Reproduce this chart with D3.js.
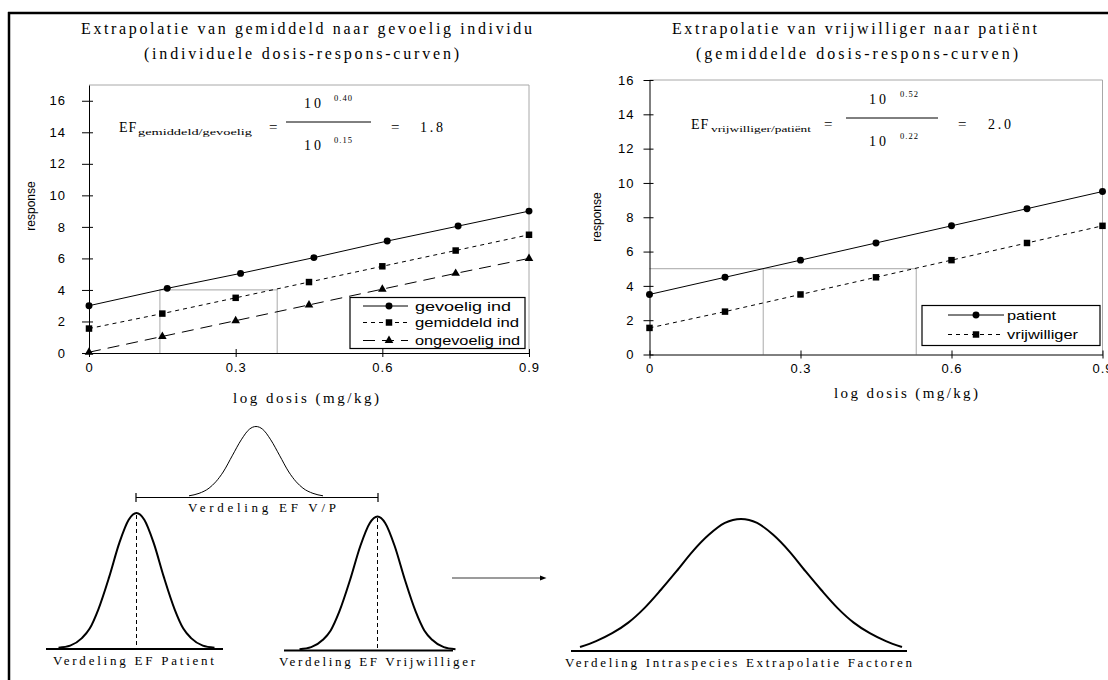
<!DOCTYPE html>
<html><head><meta charset="utf-8">
<script src="https://cdn.jsdelivr.net/npm/d3@7"></script>
<style>body{margin:0;background:#fff}svg{display:block}</style>
</head><body><svg id="c" width="1108" height="680"></svg>
<script>
// ---------- data ----------
const doseTicks = [0, 0.3, 0.6, 0.9];
const respTicks = [0, 2, 4, 6, 8, 10, 12, 14, 16];

const doseGevoelig = [0, 0.16, 0.31, 0.46, 0.61, 0.755, 0.9];
const doseStandard = [0, 0.15, 0.3, 0.45, 0.6, 0.75, 0.9];

const respGevoelig   = [3.0, 4.1, 5.05, 6.05, 7.1, 8.05, 9.0];
const respGemiddeld  = [1.55, 2.5, 3.5, 4.5, 5.5, 6.5, 7.5];
const respOngevoelig = [0.05, 1.05, 2.05, 3.05, 4.05, 5.05, 6.0];

const respPatient      = [3.5, 4.5, 5.5, 6.5, 7.5, 8.5, 9.5];
const respVrijwilliger = [1.55, 2.5, 3.5, 4.5, 5.5, 6.5, 7.5];

const refLeftDose = [0.145, 0.385], refLeftResp = 4;
const refRightDose = [0.226, 0.53], refRightResp = 5;

const legendLeft  = ["gevoelig ind", "gemiddeld ind", "ongevoelig ind"];
const legendRight = ["patient", "vrijwilliger"];

// bell profiles (u = offset / half-width, h = height fraction)
const bellU     = [0, 0.1, 0.22, 0.35, 0.49, 0.6, 0.7, 0.85, 1.0];
const narrowH   = [1, 0.95, 0.78, 0.53, 0.29, 0.15, 0.08, 0.025, 0.01];
const vpH       = [1, 0.96, 0.81, 0.59, 0.35, 0.21, 0.12, 0.045, 0.01];
const bigU      = [0, 0.1, 0.2, 0.3, 0.4, 0.5, 0.6, 0.7, 0.8, 0.9, 1.0];
const bigH      = [1, 0.97, 0.88, 0.755, 0.605, 0.46, 0.325, 0.215, 0.135, 0.075, 0.03];

// ---------- drawing ----------
const svg = d3.select("#c");
const SERIF = "'Liberation Serif','Times New Roman',serif";
const SANS = "'Liberation Sans',Arial,sans-serif";

// frame (left + top)
svg.append("line").attr("x1",9).attr("x2",9).attr("y1",12).attr("y2",680).attr("stroke","#000").attr("stroke-width",2.5);
svg.append("line").attr("x1",8).attr("x2",1108).attr("y1",13).attr("y2",13).attr("stroke","#000").attr("stroke-width",2.5);

function txt(g, s, x, y, o = {}) {
  const t = g.append("text").attr("x", x).attr("y", y).text(s)
    .attr("font-family", o.family || SERIF).attr("font-size", o.size || 14).attr("fill", "#000");
  if (o.len) t.attr("textLength", o.len).attr("lengthAdjust", o.adj || "spacing");
  if (o.anchor) t.attr("text-anchor", o.anchor);
  if (o.ls) t.attr("letter-spacing", o.ls);
  return t;
}

function chart(cfg) {
  const g = svg.append("g");
  const x = d3.scaleLinear().domain([0, 0.9]).range([cfg.x0, cfg.x1]);
  const y = d3.scaleLinear().domain([0, cfg.ymax]).range([cfg.y0, cfg.y1]);

  // titles
  txt(g, cfg.title1, cfg.t1x, 34, {size: 16, len: cfg.t1len});
  txt(g, cfg.title2, cfg.t2x, 59, {size: 16, len: cfg.t2len});

  // plot frame (top / right in grey)
  g.append("path").attr("d", `M${x(0)},${y(cfg.ymax)}H${x(0.9)}V${y(0)}`)
    .attr("fill", "none").attr("stroke", "#a8a8a8").attr("stroke-width", 1);

  // reference lines
  const [ra, rb] = cfg.refDose, rr = cfg.refResp;
  const refPath = cfg.refFromAxis
    ? `M${x(0)},${y(rr)}H${x(rb)}M${x(ra)},${y(0)}V${y(rr)}M${x(rb)},${y(0)}V${y(rr)}`
    : `M${x(ra)},${y(0)}V${y(rr)}H${x(rb)}V${y(0)}`;
  g.append("path").attr("d", refPath).attr("fill", "none").attr("stroke", "#b8b8b8").attr("stroke-width", 1.2);

  // axes
  const ya = g.append("g").attr("transform", `translate(${x(0)},0)`)
    .call(d3.axisLeft(y).tickValues(respTicks).tickSize(cfg.ytOut).tickSizeOuter(0).tickPadding(cfg.ypad));
  ya.selectAll(".tick line").attr("x1", cfg.ytIn);
  const xa = g.append("g").attr("transform", `translate(0,${y(0)})`)
    .call(d3.axisBottom(x).tickValues(doseTicks).tickSize(4).tickSizeOuter(0).tickPadding(cfg.xpad)
      .tickFormat(d => d === 0 ? "0" : d.toFixed(1)));
  xa.selectAll(".tick line").attr("y1", -4);
  [ya, xa].forEach(a => {
    a.select(".domain").attr("stroke", "#000");
    a.selectAll("line").attr("stroke", "#000");
    a.selectAll("text").attr("font-family", SANS).attr("font-size", 13).attr("letter-spacing", 1).attr("fill", "#000");
  });

  // axis titles
  g.append("text").attr("transform", `translate(${cfg.respX},${cfg.respY}) rotate(-90)`)
    .attr("text-anchor", "middle").attr("font-family", SANS).attr("font-size", 12).text("response");
  txt(g, "log dosis (mg/kg)", cfg.ltx, cfg.lty, {size: 15, len: cfg.ltlen});

  // series
  cfg.series.forEach(s => {
    const pts = s.dose.map((d, i) => [x(d), y(s.resp[i])]);
    g.append("path").attr("d", d3.line()(pts)).attr("fill", "none").attr("stroke", "#000")
      .attr("stroke-width", 1).attr("stroke-dasharray", s.dash || null);
    g.selectAll(null).data(pts).join("path")
      .attr("transform", p => `translate(${p[0]},${p[1]})`)
      .attr("d", d3.symbol().type(s.sym).size(s.size)).attr("fill", "#000");
  });

  // legend
  const L = cfg.legend;
  g.append("rect").attr("x", L.x).attr("y", L.y).attr("width", L.w).attr("height", L.h)
    .attr("fill", "#fff").attr("stroke", "#000").attr("stroke-width", 1.2);
  cfg.series.forEach((s, i) => {
    const ry = L.rows[i];
    g.append("line").attr("x1", L.lx0).attr("x2", L.lx1).attr("y1", ry).attr("y2", ry)
      .attr("stroke", "#000").attr("stroke-width", 1).attr("stroke-dasharray", s.dash || null);
    g.append("path").attr("transform", `translate(${L.mx},${ry})`)
      .attr("d", d3.symbol().type(s.sym).size(s.size)).attr("fill", "#000");
    txt(g, s.name, L.tx, ry + 4.5, {family: SANS, size: 13, len: L.lens[i], adj: "spacingAndGlyphs"});
  });

  // formula
  const F = cfg.formula;
  txt(g, "EF", F.efx, F.base, {size: 14, ls: 1});
  txt(g, F.sub, F.subx, F.base + 3, {size: 8.5, len: F.sublen, adj: "spacingAndGlyphs"});
  txt(g, "=", F.eq1, F.base, {size: 15});
  g.append("line").attr("x1", F.fx0).attr("x2", F.fx1).attr("y1", F.fy).attr("y2", F.fy)
    .attr("stroke", "#000").attr("stroke-width", 1);
  txt(g, "10", F.tenx, F.fy - 14, {size: 14, ls: 3});
  txt(g, F.num, F.supx, F.fy - 21, {size: 8.5, len: 18});
  txt(g, "10", F.tenx, F.fy + 28, {size: 14, ls: 3});
  txt(g, F.den, F.supx, F.fy + 21, {size: 8.5, len: 18});
  txt(g, "=", F.eq2, F.base, {size: 15});
  txt(g, F.res, F.resx, F.base, {size: 14, len: 23});
}

chart({
  x0: 89, x1: 529, y0: 353, y1: 85, ymax: 17,
  title1: "Extrapolatie van gemiddeld naar gevoelig individu", t1x: 81, t1len: 451,
  title2: "(individuele dosis-respons-curven)", t2x: 144, t2len: 315,
  ytOut: 7, ytIn: 4, ypad: 16, xpad: 6,
  respX: 35, respY: 206, ltx: 233, lty: 403, ltlen: 146,
  refDose: refLeftDose, refResp: refLeftResp, refFromAxis: false,
  series: [
    {name: legendLeft[0], dose: doseGevoelig, resp: respGevoelig, sym: d3.symbolCircle, size: 38},
    {name: legendLeft[1], dose: doseStandard, resp: respGemiddeld, sym: d3.symbolSquare, size: 42, dash: "4,4"},
    {name: legendLeft[2], dose: doseStandard, resp: respOngevoelig, sym: d3.symbolTriangle, size: 32, dash: "12,7"}
  ],
  legend: {x: 350, y: 297.5, w: 175, h: 51, rows: [306, 322.5, 340.5], lx0: 363, lx1: 408, mx: 389, tx: 415, lens: [96, 104, 105]},
  formula: {efx: 119, subx: 138, sub: "gemiddeld/gevoelig", sublen: 114, base: 132, eq1: 269,
    fx0: 286, fx1: 371, fy: 122, tenx: 304, supx: 334, num: "0.40", den: "0.15", eq2: 391, resx: 420, res: "1.8"}
});

chart({
  x0: 649.5, x1: 1102.5, y0: 354.5, y1: 80, ymax: 16,
  title1: "Extrapolatie van vrijwilliger naar patiënt", t1x: 672, t1len: 365,
  title2: "(gemiddelde dosis-respons-curven)", t2x: 696, t2len: 322,
  ytOut: 6, ytIn: 4, ypad: 9, xpad: 5,
  respX: 601, respY: 217, ltx: 834, lty: 398, ltlen: 144,
  refDose: refRightDose, refResp: refRightResp, refFromAxis: true,
  series: [
    {name: legendRight[0], dose: doseStandard, resp: respPatient, sym: d3.symbolCircle, size: 38},
    {name: legendRight[1], dose: doseStandard, resp: respVrijwilliger, sym: d3.symbolSquare, size: 42, dash: "4,4"}
  ],
  legend: {x: 922, y: 305.5, w: 178, h: 40, rows: [315, 334.5], lx0: 948, lx1: 1004, mx: 976, tx: 1007, lens: [49, 71]},
  formula: {efx: 691, subx: 711, sub: "vrijwilliger/patiënt", sublen: 100, base: 129, eq1: 824,
    fx0: 846, fx1: 938, fy: 118, tenx: 869, supx: 900, num: "0.52", den: "0.22", eq2: 958, resx: 988, res: "2.0"}
});

// ---------- distribution sketches ----------
function bell(cx, base, hw, h, U, H, sw) {
  const xs = d3.scaleLinear().domain([-1, 1]).range([cx - hw, cx + hw]);
  const ys = d3.scaleLinear().domain([0, 1]).range([base, base - h]);
  const pts = [];
  for (let i = U.length - 1; i > 0; i--) pts.push([xs(-U[i]), ys(H[i])]);
  for (let i = 0; i < U.length; i++) pts.push([xs(U[i]), ys(H[i])]);
  svg.append("path").attr("d", d3.line().curve(d3.curveMonotoneX)(pts))
    .attr("fill", "none").attr("stroke", "#000").attr("stroke-width", sw);
  return {xs, ys};
}
function hline(x0, x1, y, sw, col) {
  svg.append("line").attr("x1", x0).attr("x2", x1).attr("y1", y).attr("y2", y)
    .attr("stroke", col || "#000").attr("stroke-width", sw);
}

// V/P
bell(256, 496.5, 67, 70, bellU, vpH, 1);
hline(136, 378, 497.5, 1.2);
[136, 378].forEach(xx => svg.append("line").attr("x1", xx).attr("x2", xx).attr("y1", 493).attr("y2", 502).attr("stroke", "#000").attr("stroke-width", 1.2));
txt(svg, "Verdeling EF V/P", 188, 512, {size: 13, len: 148});

// Patient
bell(136.5, 649, 78, 136, bellU, narrowH, 2);
hline(46, 223, 649, 2);
svg.append("line").attr("x1", 136.5).attr("x2", 136.5).attr("y1", 515).attr("y2", 649).attr("stroke", "#000").attr("stroke-width", 1).attr("stroke-dasharray", "4,3");
txt(svg, "Verdeling EF Patient", 53, 665, {size: 13, len: 161});

// Vrijwilliger
bell(377.5, 650.5, 78, 134, bellU, narrowH, 2);
hline(284, 453, 650.5, 2);
svg.append("line").attr("x1", 377.5).attr("x2", 377.5).attr("y1", 518).attr("y2", 650.5).attr("stroke", "#000").attr("stroke-width", 1).attr("stroke-dasharray", "4,3");
txt(svg, "Verdeling EF Vrijwilliger", 279, 666, {size: 13, len: 196});

// arrow
hline(452, 541, 578, 1.3, "#7a7a7a");
svg.append("path").attr("d", "M540,575.5L546.5,578L540,580.5Z").attr("fill", "#000");

// big bell
bell(741, 651, 161, 132, bigU, bigH, 2);
hline(571, 907, 651, 2);
txt(svg, "Verdeling Intraspecies Extrapolatie Factoren", 565, 667, {size: 13, len: 347});
</script></body></html>
